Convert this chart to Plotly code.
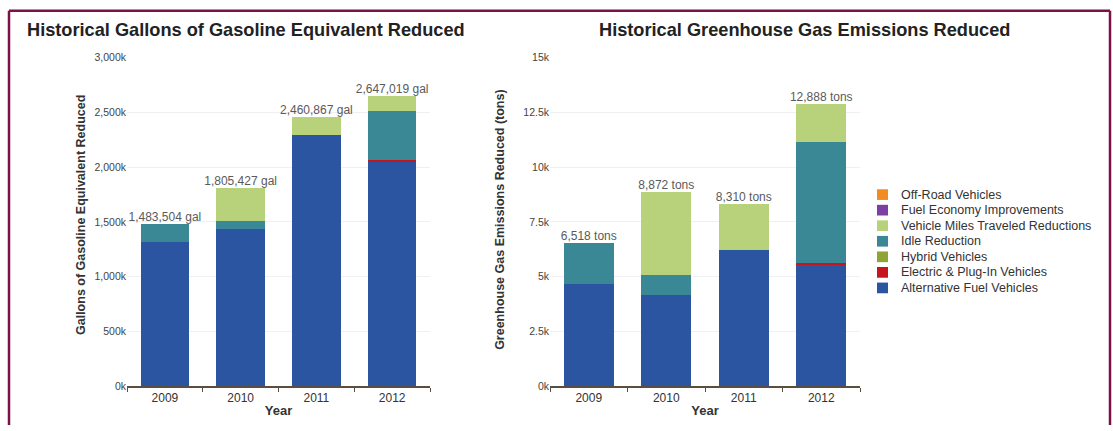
import plotly.graph_objects as go

W, H = 1113, 431

years = ["2009", "2010", "2011", "2012"]
categories = ["Alternative Fuel Vehicles", "Electric & Plug-In Vehicles", "Hybrid Vehicles",
              "Idle Reduction", "Vehicle Miles Traveled Reductions",
              "Fuel Economy Improvements", "Off-Road Vehicles"]
colors = ["#2b55a1", "#c4161c", "#8ea533", "#3a8795", "#b7d27b", "#7e3fa3", "#f38b23"]

# Gallons of gasoline equivalent reduced
gal_alt_fuel = [1318000, 1434000, 2292000, 2055000]
gal_electric = [0, 0, 0, 12000]
gal_hybrid = [0, 0, 0, 0]
gal_idle = [165504, 70000, 0, 446000]
gal_vmt = [0, 301427, 168867, 134019]
gal_fuel_econ = [0, 0, 0, 0]
gal_offroad = [0, 0, 0, 0]
gal_totals = [1483504, 1805427, 2460867, 2647019]
gal_ticks = [0, 500000, 1000000, 1500000, 2000000, 2500000, 3000000]
gal_ticktext = ["0k", "500k", "1,000k", "1,500k", "2,000k", "2,500k", "3,000k"]

# Greenhouse gas emissions reduced (tons)
ghg_alt_fuel = [4660, 4172, 6213, 5580]
ghg_electric = [0, 0, 0, 60]
ghg_hybrid = [0, 0, 0, 0]
ghg_idle = [1858, 887, 0, 5500]
ghg_vmt = [0, 3813, 2097, 1748]
ghg_fuel_econ = [0, 0, 0, 0]
ghg_offroad = [0, 0, 0, 0]
ghg_totals = [6518, 8872, 8310, 12888]
ghg_ticks = [0, 2500, 5000, 7500, 10000, 12500, 15000]
ghg_ticktext = ["0k", "2.5k", "5k", "7.5k", "10k", "12.5k", "15k"]

gal_series = [gal_alt_fuel, gal_electric, gal_hybrid, gal_idle, gal_vmt, gal_fuel_econ, gal_offroad]
ghg_series = [ghg_alt_fuel, ghg_electric, ghg_hybrid, ghg_idle, ghg_vmt, ghg_fuel_econ, ghg_offroad]

FONT = "Liberation Sans, Arial, sans-serif"
fig = go.Figure()

for name, col, vals in zip(categories, colors, gal_series):
    fig.add_trace(go.Bar(x=years, y=vals, name=name, marker=dict(color=col, line=dict(width=0)),
                         xaxis="x", yaxis="y", showlegend=False))
for name, col, vals in zip(categories, colors, ghg_series):
    fig.add_trace(go.Bar(x=years, y=vals, name=name, marker=dict(color=col, line=dict(width=0)),
                         xaxis="x2", yaxis="y2", showlegend=False))

fig.add_trace(go.Scatter(x=years, y=gal_totals, mode="text",
                         text=[f"{v:,} gal" for v in gal_totals], textposition="top center",
                         textfont=dict(size=12, color="#5a5a5a", family=FONT),
                         xaxis="x", yaxis="y", showlegend=False, hoverinfo="skip"))
fig.add_trace(go.Scatter(x=years, y=ghg_totals, mode="text",
                         text=[f"{v:,} tons" for v in ghg_totals], textposition="top center",
                         textfont=dict(size=12, color="#5a5a5a", family=FONT),
                         xaxis="x2", yaxis="y2", showlegend=False, hoverinfo="skip"))


def py(y):
    return 1 - y / H


ydom = [py(391), py(53)]
xaxis_common = dict(showgrid=False, showline=True, linecolor="#5b4d40", linewidth=1.5,
                    ticks="outside", tickson="boundaries", ticklen=4, tickcolor="#5b4d40",
                    tickfont=dict(size=12, color="#333333", family=FONT),
                    title=dict(text="<b>Year</b>", font=dict(size=13, color="#333333", family=FONT),
                               standoff=2),
                    fixedrange=True)
yaxis_common = dict(showgrid=True, gridcolor="#f0f0f0", gridwidth=1, zeroline=False, showline=False,
                    tickfont=dict(size=10.5, color="#444444", family=FONT), ticks="",
                    domain=ydom, fixedrange=True)

fig.update_layout(
    width=W, height=H,
    margin=dict(l=0, r=0, t=0, b=0),
    paper_bgcolor="white", plot_bgcolor="white",
    barmode="stack", bargap=0.36,
    font=dict(family=FONT),
    xaxis=dict(domain=[127 / W, 430 / W], anchor="y", **xaxis_common),
    yaxis=dict(range=[0, 3000000], tickvals=gal_ticks, ticktext=gal_ticktext, anchor="x",
               **yaxis_common),
    xaxis2=dict(domain=[550 / W, 860 / W], anchor="y2", **xaxis_common),
    yaxis2=dict(range=[0, 15000], tickvals=ghg_ticks, ticktext=ghg_ticktext, anchor="x2",
                **yaxis_common),
    showlegend=False,
)

# Legend (top row = last category), built from the categories / colors lists
leg_x0, leg_y0, leg_dy = 877, 194, 16
for i, (name, col) in enumerate(reversed(list(zip(categories, colors)))):
    yc = leg_y0 + i * leg_dy
    fig.add_shape(type="rect", xref="paper", yref="paper",
                  x0=leg_x0 / W, x1=(leg_x0 + 11) / W, y0=py(yc + 5.5), y1=py(yc - 5.5),
                  fillcolor=col, line=dict(width=0))
    fig.add_annotation(x=(leg_x0 + 22) / W, y=py(yc), xref="paper", yref="paper",
                       xanchor="left", yanchor="middle", text=name, showarrow=False,
                       font=dict(size=12.5, color="#333333", family=FONT))

fig.add_annotation(x=25 / W, y=py(25), xref="paper", yref="paper", xanchor="left", yanchor="middle",
                   text="<b>Historical Gallons of Gasoline Equivalent Reduced</b>", showarrow=False,
                   font=dict(size=18.2, color="#222222", family=FONT))
fig.add_annotation(x=804 / W, y=py(25), xref="paper", yref="paper", xanchor="center", yanchor="middle",
                   text="<b>Historical Greenhouse Gas Emissions Reduced</b>", showarrow=False,
                   font=dict(size=18.2, color="#222222", family=FONT))
fig.add_annotation(x=72 / W, y=py(215), xref="paper", yref="paper", textangle=-90,
                   text="<b>Gallons of Gasoline Equivalent Reduced</b>", showarrow=False,
                   font=dict(size=12.5, color="#333333", family=FONT))
fig.add_annotation(x=500 / W, y=py(220), xref="paper", yref="paper", textangle=-90,
                   text="<b>Greenhouse Gas Emissions Reduced (tons)</b>", showarrow=False,
                   font=dict(size=12.5, color="#333333", family=FONT))

border = "#7d1048"
fig.add_shape(type="line", xref="paper", yref="paper", x0=9 / W, x1=1110 / W, y0=py(5), y1=py(5),
              line=dict(color=border, width=2.5))
fig.add_shape(type="line", xref="paper", yref="paper", x0=9 / W, x1=9 / W, y0=0, y1=py(5),
              line=dict(color=border, width=2.5))
fig.add_shape(type="line", xref="paper", yref="paper", x0=1110 / W, x1=1110 / W, y0=0, y1=py(5),
              line=dict(color=border, width=2.5))

fig.write_html("out.html", config={"displayModeBar": False},
               post_script="document.body.style.margin='0';")
